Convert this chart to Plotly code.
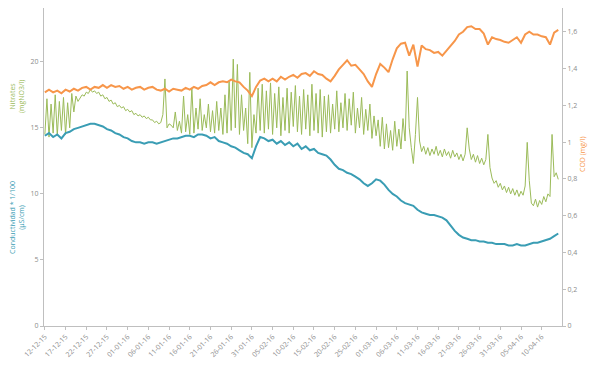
import pandas as pd
import plotly.graph_objects as go

# Conductividad * 1/100 (µS/cm), one reading per day from 12-12-2015
conductividad = [
    14.4, 14.6, 14.3, 14.5, 14.2, 14.6,
    14.7, 14.9, 15.0, 15.1, 15.2, 15.3, 15.3,
    15.2, 15.1, 14.9, 14.8, 14.6, 14.5, 14.3, 14.2, 14.0,
    13.9, 13.9, 13.8, 13.9, 13.9, 13.8, 13.9, 14.0,
    14.1, 14.2, 14.2, 14.3, 14.4, 14.4, 14.3, 14.5, 14.5,
    14.4, 14.2, 14.3, 14.0, 13.9, 13.8, 13.6,
    13.5, 13.3, 13.1, 13.0, 12.7, 13.6, 14.3,
    14.2, 14.0, 14.1, 13.8, 14.0, 13.7, 13.9,
    13.6, 13.8, 13.4, 13.6, 13.3, 13.4, 13.1, 13.0,
    12.9, 12.6, 12.2, 11.9, 11.8, 11.6, 11.5, 11.3,
    11.1, 10.8, 10.6, 10.8, 11.1, 11.0, 10.7,
    10.3, 10.0, 9.8, 9.5, 9.3, 9.2, 9.1,
    8.8, 8.6, 8.5, 8.4, 8.4, 8.3, 8.2,
    8.0, 7.6, 7.2, 6.9, 6.7, 6.6, 6.5,
    6.5, 6.4, 6.4, 6.3, 6.3, 6.2, 6.2,
    6.2, 6.1, 6.1, 6.2, 6.1, 6.1, 6.2,
    6.3, 6.3, 6.4, 6.5, 6.6, 6.8, 7.0,
]

# COD (mg/l), one reading per day
cod = [
    1.27, 1.285, 1.27, 1.28, 1.265, 1.285, 1.275, 1.29, 1.28, 1.295,
    1.30, 1.285, 1.30, 1.295, 1.31, 1.295, 1.31, 1.30, 1.305, 1.29,
    1.30, 1.285, 1.295, 1.30, 1.285, 1.295, 1.30, 1.285, 1.28, 1.29,
    1.275, 1.29, 1.285, 1.28, 1.295, 1.285, 1.30, 1.29, 1.305, 1.31,
    1.325, 1.31, 1.325, 1.33, 1.325, 1.34, 1.33, 1.325, 1.30, 1.28,
    1.25, 1.30, 1.335, 1.345, 1.33, 1.345, 1.33, 1.355, 1.34, 1.355,
    1.365, 1.35, 1.37, 1.375, 1.36, 1.385, 1.37, 1.365, 1.345, 1.33,
    1.36, 1.395, 1.42, 1.445, 1.415, 1.42, 1.395, 1.37, 1.33, 1.30,
    1.37, 1.425, 1.405, 1.38, 1.45, 1.51, 1.535, 1.54, 1.47, 1.53,
    1.41, 1.525, 1.505, 1.50, 1.485, 1.49, 1.47, 1.495, 1.52, 1.55,
    1.585, 1.60, 1.625, 1.63, 1.615, 1.615, 1.59, 1.53, 1.57, 1.56,
    1.555, 1.545, 1.54, 1.555, 1.57, 1.54, 1.585, 1.60, 1.585, 1.585,
    1.575, 1.57, 1.53, 1.595, 1.61,
]

# Nitrates (mgNO3/l), two readings per day
nitrates = [
    14.5, 17.2, 14.3, 16.8, 14.6, 17.5, 14.4, 17.0, 14.8, 17.3, 14.5, 16.9, 15.0, 17.6, 16.2, 17.4, 17.0,
    17.3, 17.5, 17.4, 17.7, 17.6, 17.9, 17.7, 17.8, 17.6, 17.7, 17.4, 17.5, 17.2, 17.3, 17.0, 17.1,
    16.8, 16.9, 16.6, 16.7, 16.5, 16.6, 16.3, 16.4, 16.2, 16.3, 16.0, 16.1, 15.9, 16.0, 15.8, 15.9,
    15.7, 15.8, 15.6, 15.6, 15.4, 15.5, 15.3, 15.4,
    16.0, 18.7, 15.0, 15.3, 15.2, 15.0, 16.2, 14.8, 15.5, 14.6, 17.4, 14.7, 16.0, 14.5, 18.0, 14.6,
    16.5, 14.9, 17.2, 14.8, 16.0, 15.0, 16.8, 14.7, 16.3, 14.6, 17.0, 14.8, 16.5, 14.5, 17.5, 14.6,
    18.5, 14.8, 20.2, 15.0, 19.8, 14.5, 17.5, 14.8, 16.5, 13.8, 19.2, 13.5, 16.0, 14.6, 18.0, 14.8,
    18.3, 14.6, 17.8, 14.9, 18.4, 14.5, 17.6, 15.0, 18.1, 14.4, 17.3, 14.8, 18.0, 14.6, 17.7, 15.1,
    18.2, 14.7, 17.4, 14.5, 17.9, 14.9, 17.5, 14.4, 18.3, 14.8, 17.6, 14.6, 17.9, 14.3, 17.4, 14.7,
    17.5, 14.6, 16.8, 14.9, 17.8, 14.7, 16.9, 15.0, 17.6, 14.8, 17.2, 15.2,
    17.7, 14.6, 16.5, 15.0, 17.3, 14.5, 16.4, 14.8, 16.8, 14.2, 15.9, 14.4,
    15.6, 13.6, 15.8, 13.4, 15.3, 13.5, 14.8, 13.3, 15.5, 13.6, 14.9, 13.4, 15.7, 14.0,
    19.3, 15.0, 13.5, 12.3, 14.5, 17.3, 14.0, 13.2,
    13.6, 13.0, 13.5, 12.9, 13.4, 13.0, 13.6, 12.9, 13.3, 12.8, 13.4,
    12.9, 13.2, 12.7, 13.3, 12.8, 13.1, 12.6, 13.0, 12.5, 13.0,
    15.0, 13.4, 12.6, 13.0, 12.4, 12.9, 12.3, 12.7, 12.2, 12.6, 14.5, 12.0,
    11.2, 10.8, 11.0, 10.5, 10.8, 10.3, 10.6, 10.1, 10.5, 10.0, 10.4, 9.9, 10.3, 9.8, 10.2, 9.9, 10.6,
    13.9, 11.0, 9.3, 9.1, 9.6, 9.0, 9.5, 9.2, 9.8, 9.4, 10.0, 9.8, 14.5, 11.3, 11.6, 11.1,
]

left_ticks = [0, 5, 10, 15, 20]
right_ticks = [0, 0.2, 0.4, 0.6, 0.8, 1, 1.2, 1.4, 1.6]

daily_dates = pd.date_range("2015-12-12", periods=len(conductividad), freq="D")
half_day_dates = pd.date_range("2015-12-12", periods=len(nitrates), freq="12h")

TEAL = "#3A9DB4"
GREEN = "#9BBB59"
ORANGE = "#F7964A"
TICK_GREY = "#8C8C8C"
AXIS_GREY = "#BFBFBF"
FONT = "Open Sans"

fig = go.Figure()
fig.add_trace(go.Scatter(x=half_day_dates, y=nitrates, mode="lines",
                         line=dict(color=GREEN, width=1), name="Nitrates"))
fig.add_trace(go.Scatter(x=daily_dates, y=conductividad, mode="lines",
                         line=dict(color=TEAL, width=2), name="Conductividad"))
fig.add_trace(go.Scatter(x=daily_dates, y=cod, mode="lines", yaxis="y2",
                         line=dict(color=ORANGE, width=2), name="COD"))

x_start = pd.Timestamp("2015-12-12") - pd.Timedelta(hours=5)
x_end = pd.Timestamp("2015-12-12") + pd.Timedelta(days=124.9)

fig.update_layout(
    width=600, height=367,
    margin=dict(l=44, r=38, t=8, b=34),
    paper_bgcolor="white", plot_bgcolor="white",
    showlegend=False,
    separators=", ",
    font=dict(family=FONT, size=7, color=TICK_GREY),
    xaxis=dict(
        type="date", range=[x_start, x_end],
        tick0="2015-12-12", dtick=5 * 86400000, tickformat="%d-%m-%y",
        tickangle=-45, ticks="outside", ticklen=3, tickcolor=AXIS_GREY,
        showline=True, linecolor=AXIS_GREY, linewidth=1,
        showgrid=False, zeroline=False,
        tickfont=dict(size=7, color=TICK_GREY),
    ),
    yaxis=dict(
        range=[0, 24.07], tickvals=left_ticks,
        ticks="outside", ticklen=3, tickcolor=AXIS_GREY,
        showline=True, linecolor=AXIS_GREY, linewidth=1,
        showgrid=False, zeroline=False,
        tickfont=dict(size=7, color=TICK_GREY),
    ),
    yaxis2=dict(
        range=[0, 1.729], tickvals=right_ticks, overlaying="y", side="right",
        ticks="outside", ticklen=3, tickcolor=AXIS_GREY,
        showline=True, linecolor=AXIS_GREY, linewidth=1,
        showgrid=False, zeroline=False,
        tickfont=dict(size=7, color=TICK_GREY),
    ),
)

# Axis titles
fig.add_annotation(text="Nitrates<br>(mgNO3/l)", xref="paper", yref="paper",
                   x=-0.052, y=0.72, textangle=-90, showarrow=False,
                   font=dict(family=FONT, size=7, color=GREEN), xanchor="center", yanchor="middle")
fig.add_annotation(text="Conductividad * 1/100<br>(µS/cm)", xref="paper", yref="paper",
                   x=-0.052, y=0.34, textangle=-90, showarrow=False,
                   font=dict(family=FONT, size=7, color=TEAL), xanchor="center", yanchor="middle")
fig.add_annotation(text="COD (mg/l)", xref="paper", yref="paper",
                   x=1.04, y=0.54, textangle=-90, showarrow=False,
                   font=dict(family=FONT, size=7, color=ORANGE), xanchor="center", yanchor="middle")

fig.write_html("out.html")
